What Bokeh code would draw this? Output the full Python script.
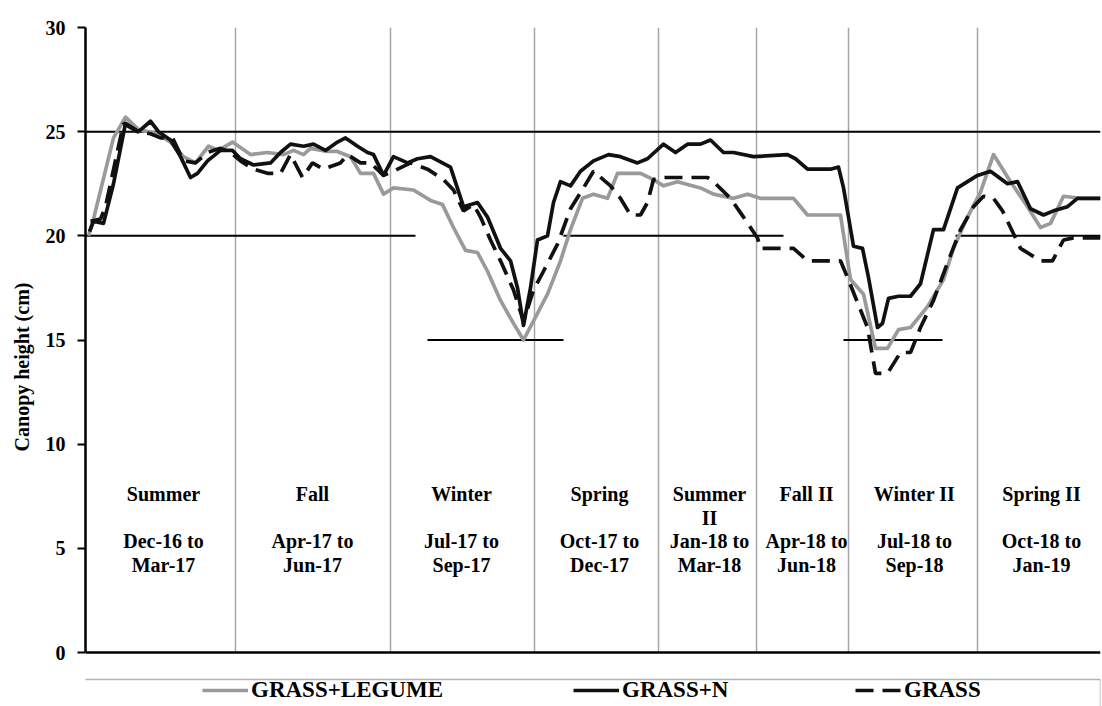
from bokeh.plotting import figure
from bokeh.models import Range1d, Legend, LegendItem, BoxAnnotation, FixedTicker, Span
from bokeh.embed import file_html
from bokeh.resources import INLINE
from bokeh.core.properties import value

# ---------------- data (x = sampling position, y = canopy height, cm) ----------------
legume_x = [0.3, 0.8, 2.8, 4.0, 5.3, 7.2, 8.5, 9.8, 11.0, 12.3, 13.3, 14.7, 16.5, 18.2, 19.8,
            20.8, 21.8, 22.5, 24.2, 25.2, 26.5, 27.5, 28.8, 29.8, 30.8, 32.8, 34.5, 35.7, 36.8,
            38.0, 39.2, 40.2, 41.5, 42.8, 43.8, 45.0, 46.2, 47.5, 48.5, 49.7, 50.8, 52.2, 53.2,
            55.5, 56.8, 57.8, 59.2, 61.5, 62.8, 64.8, 66.2, 67.5, 70.8, 72.2, 75.5, 76.5, 77.8,
            79.0, 80.2, 81.3, 82.5, 84.2, 85.8, 86.8, 88.2, 89.5, 90.8, 92.5, 94.2, 95.5, 96.5,
            97.8, 99.5, 101.5]
legume_y = [20.0, 20.8, 24.7, 25.7, 25.1, 24.9, 24.5, 23.8, 23.5, 24.3, 24.1, 24.5, 23.9, 24.0, 23.9,
            24.1, 23.9, 24.2, 24.05, 24.05, 23.8, 23.0, 23.0, 22.0, 22.3, 22.2, 21.7, 21.5, 20.4,
            19.3, 19.2, 18.3, 16.9, 15.8, 15.0, 16.1, 17.2, 18.8, 20.3, 21.8, 22.0, 21.8, 23.0,
            23.0, 22.7, 22.4, 22.6, 22.3, 22.0, 21.8, 22.0, 21.8, 21.8, 21.0, 21.0, 17.9, 17.2,
            14.6, 14.6, 15.5, 15.6, 16.6, 17.9, 19.4, 20.9, 22.1, 23.9, 22.6, 21.4, 20.4, 20.6,
            21.9, 21.8, 21.8]

grassn_x = [0.4, 0.8, 1.8, 2.8, 4.0, 5.3, 6.5, 7.3, 8.5, 9.5, 10.5, 11.2, 12.2, 13.5, 14.7, 15.5,
            16.8, 18.5, 19.5, 20.5, 21.8, 22.8, 24.0, 25.2, 26.0, 27.2, 28.2, 28.8, 29.8, 30.8,
            32.2, 33.2, 34.5, 36.5, 37.8, 39.2, 40.2, 41.5, 42.5, 43.2, 43.8, 44.5, 45.2, 46.2,
            46.8, 47.5, 48.5, 49.5, 50.8, 52.3, 53.5, 55.2, 56.2, 57.8, 59.0, 60.2, 61.5, 62.5,
            63.8, 64.8, 66.8, 70.2, 71.0, 72.2, 74.5, 75.3, 75.8, 76.8, 77.7, 78.3, 79.2, 79.7,
            80.3, 81.3, 82.5, 83.5, 84.8, 85.8, 87.2, 88.2, 89.2, 90.5, 92.2, 93.2, 94.5, 95.8,
            96.8, 98.2, 99.2, 101.5]
grassn_y = [20.2, 20.7, 20.6, 22.5, 25.4, 25.0, 25.5, 25.0, 24.6, 23.8, 22.8, 23.0, 23.6, 24.1, 24.1, 23.7,
            23.4, 23.5, 24.0, 24.4, 24.3, 24.4, 24.1, 24.5, 24.7, 24.3, 24.0, 23.9, 22.9, 23.8,
            23.5, 23.7, 23.8, 23.3, 21.4, 21.6, 20.9, 19.4, 18.8, 17.5, 15.7, 17.5, 19.8, 20.0,
            21.6, 22.6, 22.4, 23.1, 23.6, 23.9, 23.8, 23.5, 23.7, 24.4, 24.0, 24.4, 24.4, 24.6,
            24.0, 24.0, 23.8, 23.9, 23.7, 23.2, 23.2, 23.3, 22.3, 19.5, 19.4, 18.0, 15.6, 15.8,
            17.0, 17.1, 17.1, 17.7, 20.3, 20.3, 22.3, 22.6, 22.9, 23.1, 22.5, 22.6, 21.3, 21.0,
            21.2, 21.4, 21.8, 21.8]

grass_x = [0.5, 1.5, 2.0, 3.8, 5.2, 6.5, 7.5, 8.7, 9.8, 11.0, 12.2, 13.5, 14.5, 15.5, 16.8, 18.2,
           19.5, 20.5, 21.7, 22.7, 23.8, 25.5, 26.2, 27.5, 28.5, 29.8, 30.8, 32.5, 34.2, 35.8,
           36.8, 37.8, 38.8, 39.5, 40.5, 41.5, 42.8, 43.8, 44.8, 45.8, 47.2, 48.5, 49.8, 50.8,
           52.5, 53.5, 54.5, 55.5, 56.2, 56.8, 57.8, 60.2, 62.2, 62.8, 64.5, 65.8, 67.2, 67.5,
           69.8, 70.8, 72.2, 75.5, 76.2, 77.2, 78.2, 79.0, 80.2, 81.5, 82.5, 83.5, 84.8, 86.2,
           87.5, 88.8, 89.8, 90.8, 91.7, 92.8, 93.5, 95.5, 96.7, 97.8, 98.8, 101.5]
grass_y = [20.7, 20.8, 21.4, 25.4, 25.0, 24.9, 24.7, 24.7, 23.6, 23.5, 24.0, 24.2, 24.0, 23.6, 23.2, 23.0,
           23.0, 23.9, 22.8, 23.5, 23.2, 23.5, 23.9, 23.5, 23.5, 22.9, 23.1, 23.5, 23.2, 22.7,
           22.2, 21.2, 21.5, 20.9, 19.8, 18.8, 17.4, 15.9, 17.4, 18.3, 19.6, 21.3, 22.3, 23.1,
           22.4, 21.8, 21.0, 21.0, 21.6, 22.7, 22.8, 22.8, 22.8, 22.6, 21.8, 20.9, 19.9, 19.4,
           19.4, 19.4, 18.8, 18.8, 18.0, 16.8, 15.6, 13.4, 13.4, 14.4, 14.4, 15.6, 16.9, 18.7,
           20.3, 21.4, 21.9, 21.8, 21.2, 20.1, 19.4, 18.8, 18.8, 19.8, 19.9, 19.9]

# season boundaries (vertical separators)
season_bounds = [15.0, 30.5, 44.9, 57.3, 67.1, 76.3, 89.2]

# reference (target height) segments
ref_level = [25, 20, 20, 20, 15, 15]
ref_start = [0.0, 0.0, 47.8, 87.0, 34.2, 75.8]
ref_end = [101.5, 33.0, 69.8, 101.5, 47.8, 85.7]

# season labels
season_center = [7.8, 22.7, 37.6, 51.4, 62.4, 72.1, 82.9, 95.6]
season_line1 = ["Summer", "Fall", "Winter", "Spring", "Summer", "Fall II", "Winter II", "Spring II"]
season_line2 = ["", "", "", "", "II", "", "", ""]
season_line3 = ["Dec-16 to", "Apr-17 to", "Jul-17 to", "Oct-17 to", "Jan-18 to", "Apr-18 to", "Jul-18 to", "Oct-18 to"]
season_line4 = ["Mar-17", "Jun-17", "Sep-17", "Dec-17", "Mar-18", "Jun-18", "Sep-18", "Jan-19"]
line_levels = [7.63, 6.48, 5.33, 4.18]

y_ticks = [0, 5, 10, 15, 20, 25, 30]
series_names = ["GRASS+LEGUME", "GRASS+N", "GRASS"]

# ---------------- figure ----------------
SERIF = "Liberation Serif"
p = figure(width=1102, height=706, output_backend="svg", toolbar_location=None,
           x_range=Range1d(0, 101.5), y_range=Range1d(-2.592, 30),
           x_axis_location=None, min_border_left=85, min_border_right=2,
           min_border_top=27, min_border_bottom=0)
p.outline_line_color = None
p.xgrid.visible = False
p.ygrid.visible = False
p.background_fill_color = "white"

ax = p.yaxis[0]
ax.bounds = (0, 30)
ax.ticker = FixedTicker(ticks=y_ticks)
ax.axis_line_width = 2.5
ax.axis_line_color = "black"
ax.major_tick_line_width = 2
ax.major_tick_out = 8
ax.major_tick_in = 0
ax.minor_tick_out = 0
ax.minor_tick_in = 0
ax.major_label_text_font = SERIF
ax.major_label_text_font_style = "bold"
ax.major_label_text_font_size = "20px"
ax.major_label_text_color = "black"
ax.major_label_standoff = 12
ax.axis_label = "Canopy height (cm)"
ax.axis_label_text_font = SERIF
ax.axis_label_text_font_style = "bold"
ax.axis_label_text_font_size = "20px"
ax.axis_label_text_color = "black"
ax.axis_label_standoff = 10

# x axis line at 0
p.add_layout(Span(location=0, dimension="width", line_color="black", line_width=2.5))

# season separators
p.segment(x0=season_bounds, y0=[0] * len(season_bounds), x1=season_bounds,
          y1=[30] * len(season_bounds), line_color="#a6a6a6", line_width=1.5)

# reference lines
p.segment(x0=ref_start, y0=ref_level, x1=ref_end, y1=ref_level, line_color="black", line_width=2)

# series
r1 = p.line(legume_x, legume_y, line_color="#9a9a9a", line_width=3.7, line_join="round")
r2 = p.line(grassn_x, grassn_y, line_color="#111111", line_width=3.7, line_join="round")
r3 = p.line(grass_x, grass_y, line_color="#111111", line_width=3.7, line_dash="18 9")

# season labels
tx, ty, tt = [], [], []
for i, cx in enumerate(season_center):
    for lvl, lines in zip(line_levels, [season_line1, season_line2, season_line3, season_line4]):
        if lines[i]:
            tx.append(cx)
            ty.append(lvl)
            tt.append(lines[i])
p.text(x=tx, y=ty, text=tt, text_font=value(SERIF), text_font_style="bold",
       text_font_size="20px", text_align="center", text_baseline="middle", text_color="black")

# legend box
p.add_layout(BoxAnnotation(left=-1.5, right=101.5, top=-1.30, bottom=-2.7,
                           fill_alpha=0, line_color="black", line_width=1.5))

for r, name, xloc in zip([r1, r2, r3], series_names, [117, 488, 770]):
    lg = Legend(items=[LegendItem(label=name, renderers=[r])], location=(xloc, 3),
                orientation="horizontal", border_line_color=None, background_fill_alpha=0,
                padding=0, margin=0, glyph_width=46, glyph_height=20, label_standoff=3,
                label_text_font=SERIF, label_text_font_style="bold",
                label_text_font_size="23px", label_text_color="black")
    p.add_layout(lg)

open("out.html", "w").write(file_html(p, INLINE))
